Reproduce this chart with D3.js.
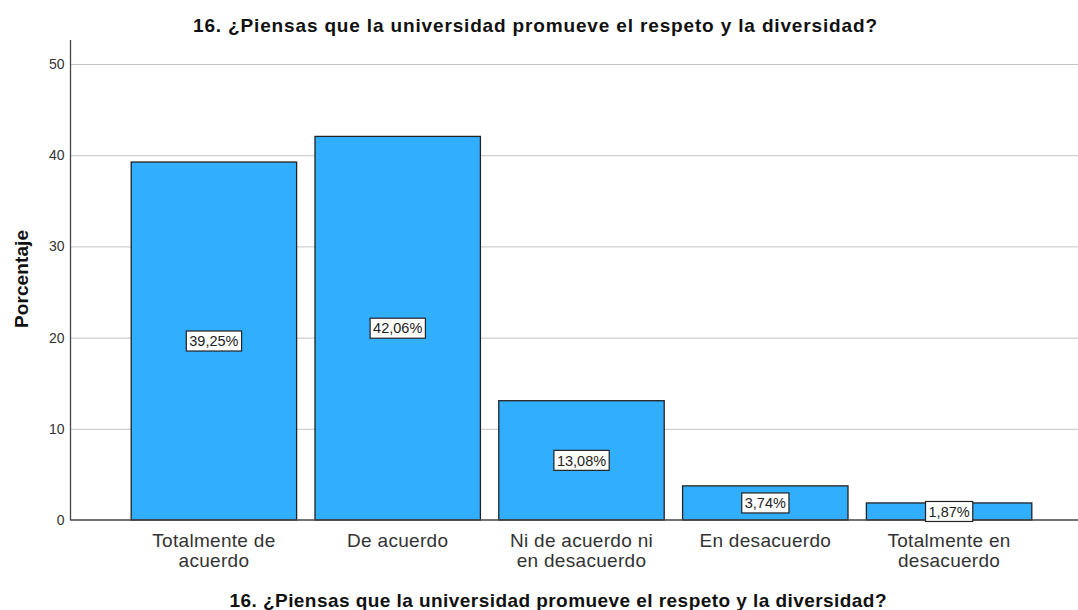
<!DOCTYPE html>
<html>
<head>
<meta charset="utf-8">
<script src="https://cdn.jsdelivr.net/npm/d3@7"></script>
<style>
  body { margin: 0; background: #fff; }
  svg { display: block; font-family: "Liberation Sans", Arial, sans-serif; }
</style>
</head>
<body>
<script>
// chart data
var categories = [
  ["Totalmente de", "acuerdo"],
  ["De acuerdo"],
  ["Ni de acuerdo ni", "en desacuerdo"],
  ["En desacuerdo"],
  ["Totalmente en", "desacuerdo"]
];
var values = [39.25, 42.06, 13.08, 3.74, 1.87];
var valueLabels = ["39,25%", "42,06%", "13,08%", "3,74%", "1,87%"];
var yTicks = [0, 10, 20, 30, 40, 50];
var titleText = "16. ¿Piensas que la universidad promueve el respeto y la diversidad?";

var w = 1078, h = 610;
var svg = d3.select("body").append("svg")
  .attr("width", w)
  .attr("height", h);

//scales
var x = d3.scaleBand()
  .domain(d3.range(values.length))
  .range([122, 1041])
  .paddingInner(0.1)
  .paddingOuter(0.05);

var y = d3.scaleLinear()
  .domain([0, 50])
  .range([520, 64]);

//gridlines
svg.selectAll(".grid")
  .data(yTicks.slice(1))
  .enter()
  .append("line")
  .attr("class", "grid")
  .attr("x1", 71).attr("x2", w)
  .attr("y1", function(d){ return y(d) + 0.5; })
  .attr("y2", function(d){ return y(d) + 0.5; })
  .attr("stroke", "#c4c4c4")
  .attr("stroke-width", 1);

//y axis
var yAxis = d3.axisLeft(y).tickValues(yTicks).tickSize(0).tickPadding(6);
var gy = svg.append("g")
  .attr("transform", "translate(70.5,0)")
  .call(yAxis);
gy.select(".domain").remove();
gy.selectAll("text")
  .attr("font-size", 14)
  .attr("fill", "#333")
  .attr("font-family", "Liberation Sans, Arial, sans-serif");
svg.append("line")
  .attr("x1", 70.5).attr("x2", 70.5)
  .attr("y1", 40).attr("y2", 520)
  .attr("stroke", "#444").attr("stroke-width", 1.3);

//bars
svg.selectAll(".bar")
  .data(values)
  .enter()
  .append("rect")
  .attr("class", "bar")
  .attr("x", function(d, i){ return x(i); })
  .attr("y", function(d){ return y(d); })
  .attr("width", x.bandwidth())
  .attr("height", function(d){ return y(0) - y(d); })
  .attr("fill", "#32aeff")
  .attr("stroke", "#222")
  .attr("stroke-width", 1.3);

//baseline
svg.append("line")
  .attr("x1", 70).attr("x2", w)
  .attr("y1", 520).attr("y2", 520)
  .attr("stroke", "#444").attr("stroke-width", 1.3);

//value labels in boxes
var lab = svg.selectAll(".lab")
  .data(values)
  .enter()
  .append("g")
  .attr("class", "lab")
  .attr("transform", function(d, i){
    return "translate(" + (x(i) + x.bandwidth() / 2) + "," + y(d / 2) + ")";
  });
lab.append("text")
  .attr("text-anchor", "middle")
  .attr("dy", "0.36em")
  .attr("font-size", 14.5)
  .attr("fill", "#222")
  .text(function(d, i){ return valueLabels[i]; })
  .each(function(){
    var bb = this.getBBox();
    d3.select(this.parentNode).insert("rect", "text")
      .attr("x", bb.x - 3)
      .attr("y", -10)
      .attr("width", bb.width + 6)
      .attr("height", 20)
      .attr("fill", "#fff")
      .attr("stroke", "#222")
      .attr("stroke-width", 1.2);
  });

//category labels
var cat = svg.selectAll(".cat")
  .data(categories)
  .enter()
  .append("text")
  .attr("class", "cat")
  .attr("text-anchor", "middle")
  .attr("font-size", 19)
  .attr("letter-spacing", 0.3)
  .attr("fill", "#333")
  .attr("x", function(d, i){ return x(i) + x.bandwidth() / 2; });
cat.selectAll("tspan")
  .data(function(d){ return d; })
  .enter()
  .append("tspan")
  .attr("x", function(){ return d3.select(this.parentNode).attr("x"); })
  .attr("y", function(d, j){ return 547 + j * 20; })
  .text(function(d){ return d; });

//titles
svg.append("text")
  .attr("x", 535).attr("y", 32)
  .attr("text-anchor", "middle")
  .attr("font-size", 19).attr("font-weight", "bold")
  .attr("textLength", 684).attr("lengthAdjust", "spacing")
  .attr("fill", "#111")
  .text(titleText);

svg.append("text")
  .attr("x", 558).attr("y", 607)
  .attr("text-anchor", "middle")
  .attr("font-size", 19).attr("font-weight", "bold")
  .attr("textLength", 657).attr("lengthAdjust", "spacing")
  .attr("fill", "#111")
  .text(titleText);

svg.append("text")
  .attr("transform", "translate(28,279) rotate(-90)")
  .attr("text-anchor", "middle")
  .attr("font-size", 19).attr("font-weight", "bold")
  .attr("textLength", 98).attr("lengthAdjust", "spacing")
  .attr("fill", "#111")
  .text("Porcentaje");
</script>
</body>
</html>
